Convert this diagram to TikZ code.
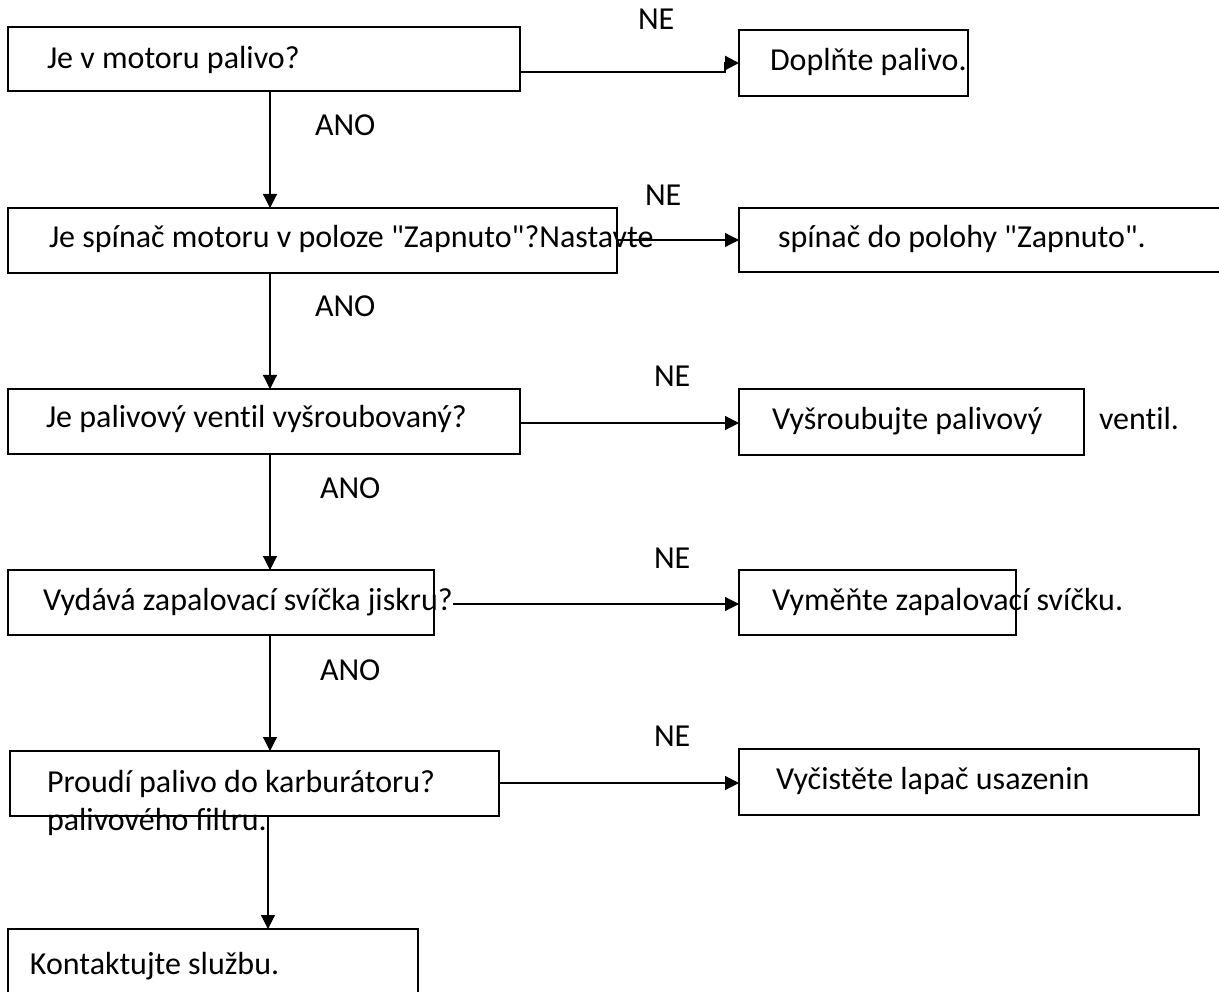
\documentclass[tikz,border=0pt]{standalone}
\usepackage{fontspec}
\setmainfont{Carlito}[Ligatures={TeXOff,NoCommon}]
\usetikzlibrary{arrows.meta}
\tikzset{
  boxnode/.style={draw, line width=2pt, inner sep=0pt, outer sep=0pt, anchor=north west, fill=none},
  txt/.style={anchor=base west, inner sep=0pt, outer sep=0pt, font=\fontsize{32}{38}\selectfont},
  arr/.style={line width=1.2pt, -{Triangle[length=14pt,width=14pt]}},
  thickarr/.style={line width=2.4pt, -{Triangle[length=14pt,width=14pt]}}
}
\begin{document}
\begin{tikzpicture}[x=1pt,y=-1pt]
\useasboundingbox (0,0) rectangle (1219,992);
\clip (0,0) rectangle (1219,992);
% boxes
\node[boxnode, minimum width=512pt, minimum height=64pt] (q1) at (8,27) {};
\node[boxnode, minimum width=229pt, minimum height=66pt] (a1) at (739,30) {};
\node[boxnode, minimum width=609pt, minimum height=65pt] (q2) at (8,208) {};
\node[boxnode, minimum width=520pt, minimum height=64pt] (a2) at (739,208) {};
\node[boxnode, minimum width=512pt, minimum height=65pt] (q3) at (8,389) {};
\node[boxnode, minimum width=345pt, minimum height=66pt] (a3) at (739,389) {};
\node[boxnode, minimum width=426pt, minimum height=65pt] (q4) at (8,570) {};
\node[boxnode, minimum width=277pt, minimum height=65pt] (a4) at (739,570) {};
\node[boxnode, minimum width=489pt, minimum height=65pt] (q5) at (10,751) {};
\node[boxnode, minimum width=460pt, minimum height=66pt] (a5) at (739,749) {};
\node[boxnode, minimum width=410pt, minimum height=90pt] (q6) at (8,929) {};
% texts
\node[txt] (t1) at (47,69) {Je v motoru palivo?};
\node[txt] (u1) at (770,71) {Doplňte palivo.};
\node[txt] (ne1) at (638,30) {NE};
\node[txt] (ano1) at (315,136) {ANO};
\node[txt] (t2) at (49,248) {Je spínač motoru v poloze "Zapnuto"?Nastavte};
\node[txt] (u2) at (778,248) {spínač do polohy "Zapnuto".};
\node[txt] (ne2) at (645,206) {NE};
\node[txt] (ano2) at (315,317) {ANO};
\node[txt] (t3) at (46,428) {Je palivový ventil vyšroubovaný?};
\node[txt] (u3) at (772,429) {Vyšroubujte palivový};
\node[txt] (u3b) at (1099,429) {ventil.};
\node[txt] (ne3) at (654,387) {NE};
\node[txt] (ano3) at (320,498) {ANO};
\node[txt] (t4) at (43,610) {Vydává zapalovací svíčka jiskru?};
\node[txt] (u4) at (772,610) {Vyměňte zapalovací svíčku.};
\node[txt] (ne4) at (654,568) {NE};
\node[txt] (ano4) at (320,680) {ANO};
\node[txt] (t5) at (47,792) {Proudí palivo do karburátoru?};
\node[txt] (t5b) at (47,830) {palivového filtru.};
\node[txt] (u5) at (776,789) {Vyčistěte lapač usazenin};
\node[txt] (ne5) at (654,746) {NE};
\node[txt] (t6) at (30,974) {Kontaktujte službu.};
% vertical connectors
\coordinate (vx) at (270,0);
\coordinate (vx2) at (268,0);
\draw[arr] (q1.south -| vx) -- (q2.north -| vx);
\draw[arr] (q2.south -| vx) -- (q3.north -| vx);
\draw[arr] (q3.south -| vx) -- (q4.north -| vx);
\draw[arr] (q4.south -| vx) -- (q5.north -| vx);
\draw[arr] (q5.south -| vx2) -- (q6.north -| vx2);
% horizontal connectors
\coordinate (jog) at (725,72);
\draw[thickarr] (q1.east |- jog) -- (jog) -- (jog |- 0,63) -- (a1.west |- 0,63);
\draw[arr] (q2.east |- 0,240) -- (a2.west |- 0,240);
\draw[arr] (q3.east |- 0,423) -- (a3.west |- 0,423);
\coordinate (s4) at (453,604);
\draw[arr] (s4) -- (a4.west |- s4);
\draw[arr] (q5.east |- 0,783) -- (a5.west |- 0,783);
\end{tikzpicture}
\end{document}
